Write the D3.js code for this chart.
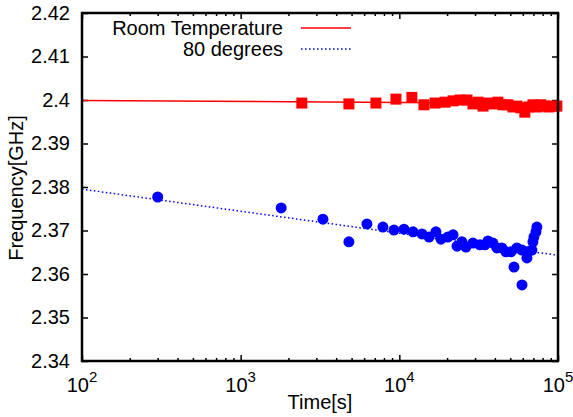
<!DOCTYPE html>
<html>
<head>
<meta charset="utf-8">
<script src="https://cdn.jsdelivr.net/npm/d3@7"></script>
<style>
  body { margin: 0; background: #fff; }
  svg text { font-family: "Liberation Sans", Arial, sans-serif; fill: #000; }
</style>
</head>
<body>
<svg id="chart" width="573" height="417"></svg>
<script>
// Room temperature measurements (time in s, frequency in GHz)
const roomTime = [2430, 4810, 7120, 9520, 12000, 14300, 16800, 19400, 21800, 24100, 26700, 29100,
  31300, 33700, 36200, 38900, 41800, 45000, 48300, 52000, 55100, 58400, 61800, 65600, 69500,
  73600, 78000, 82600, 87600, 92900, 98400]
const roomFreq = [2.3993, 2.3991, 2.3993, 2.4002, 2.4006, 2.3989, 2.3993, 2.3995, 2.3998, 2.4000,
  2.4000, 2.3991, 2.3995, 2.3986, 2.3993, 2.3991, 2.3995, 2.3989, 2.3989, 2.3984, 2.3986, 2.3982,
  2.3972, 2.3984, 2.3989, 2.3984, 2.3989, 2.3986, 2.3984, 2.3986, 2.3986]

// 80 degrees measurements
const hotTime = [300, 1800, 3300, 4810, 6250, 7880, 9250, 10700, 12200, 13900, 15400, 17000, 18300,
  20200, 21800, 23100, 24800, 26300, 29100, 32200, 34600, 36200, 38900, 41200, 44300, 47000,
  50500, 52800, 55100, 59300, 59300, 63700, 64600, 68500, 69500, 70500, 72600, 73600]
const hotFreq = [2.3777, 2.3752, 2.3726, 2.3674, 2.3715, 2.3708, 2.3701, 2.3703, 2.3697, 2.3692,
  2.3685, 2.3697, 2.3680, 2.3685, 2.3690, 2.3664, 2.3674, 2.3662, 2.3671, 2.3667, 2.3667, 2.3676,
  2.3671, 2.3660, 2.3660, 2.3651, 2.3651, 2.3616, 2.3660, 2.3655, 2.3575, 2.3637, 2.3651, 2.3655,
  2.3674, 2.3685, 2.3697, 2.3708]

// fitted lines (end points of the log-linear fits)
const roomFitTime = [100, 100000]
const roomFitFreq = [2.3999, 2.3992]
const hotFitTime = [100, 100000]
const hotFitFreq = [2.3795, 2.3643]

const xTicks = [100, 1000, 10000, 100000]
const xExp = ['2', '3', '4', '5']
const yTicks = [2.34, 2.35, 2.36, 2.37, 2.38, 2.39, 2.4, 2.41, 2.42]
const legendNames = ['Room Temperature', '80 degrees']

const plotLeft = 82, plotRight = 558, plotTop = 13, plotBottom = 361
const fontSize = 20

const svg = d3.select('#chart')
const x = d3.scaleLog().domain([100, 100000]).range([plotLeft, plotRight])
const y = d3.scaleLinear().domain([2.34, 2.42]).range([plotBottom, plotTop])

// minor ticks 2..9 in every decade
const minorTicks = []
for (let e = 2; e < 5; e++) for (let m = 2; m < 10; m++) minorTicks.push(m * Math.pow(10, e))

const styleAxis = g => {
  g.select('.domain').remove()
  g.selectAll('.tick line').attr('stroke', '#000').attr('stroke-width', 1.5)
}

// y axis with labels, ticks pointing inward
svg.append('g')
   .attr('transform', `translate(${plotLeft},0)`)
   .call(d3.axisLeft(y).tickValues(yTicks).tickSize(-6).tickPadding(12)
           .tickFormat(d => String(+d.toFixed(2))))
   .call(styleAxis)
   .call(g => g.selectAll('text').attr('font-size', fontSize).attr('font-family', null).attr('fill', '#000'))

// mirrored right ticks
svg.append('g')
   .attr('transform', `translate(${plotRight},0)`)
   .call(d3.axisRight(y).tickValues(yTicks).tickSize(-6).tickFormat(''))
   .call(styleAxis)

// bottom / top major and minor ticks
const xAxes = [[d3.axisBottom, plotBottom], [d3.axisTop, plotTop]]
xAxes.forEach(([ax, pos]) => {
  svg.append('g')
     .attr('transform', `translate(0,${pos})`)
     .call(ax(x).tickValues(xTicks).tickSize(-6).tickFormat(''))
     .call(styleAxis)
  svg.append('g')
     .attr('transform', `translate(0,${pos})`)
     .call(ax(x).tickValues(minorTicks).tickSize(-3).tickFormat(''))
     .call(styleAxis)
})

// x tick labels 10^n with superscript
const xLab = svg.append('g').selectAll('text').data(xTicks).enter().append('text')
   .attr('x', d => x(d))
   .attr('y', 392)
   .attr('text-anchor', 'middle')
   .attr('font-size', fontSize)
xLab.append('tspan').text('10')
xLab.append('tspan').attr('dy', -10).attr('font-size', 15).text((d, i) => xExp[i])

// axis titles
svg.append('text')
   .attr('x', 320).attr('y', 409)
   .attr('text-anchor', 'middle')
   .attr('font-size', fontSize)
   .text('Time[s]')
svg.append('text')
   .attr('transform', 'translate(23,188) rotate(-90)')
   .attr('text-anchor', 'middle')
   .attr('font-size', fontSize)
   .text('Frequency[GHz]')

const line = d3.line().x(d => x(d[0])).y(d => y(d[1]))

// fitted lines
svg.append('path')
   .datum(roomFitTime.map((t, i) => [t, roomFitFreq[i]]))
   .attr('d', line)
   .attr('fill', 'none').attr('stroke', '#ff0000').attr('stroke-width', 1.5)
svg.append('path')
   .datum(hotFitTime.map((t, i) => [t, hotFitFreq[i]]))
   .attr('d', line)
   .attr('fill', 'none').attr('stroke', '#0000ff').attr('stroke-width', 1.5)
   .attr('stroke-dasharray', '1.5,2.5')

// measured points
const sq = 11
svg.append('g').selectAll('rect')
   .data(roomTime.map((t, i) => [t, roomFreq[i]]))
   .enter().append('rect')
   .attr('x', d => x(d[0]) - sq / 2)
   .attr('y', d => y(d[1]) - sq / 2)
   .attr('width', sq).attr('height', sq)
   .attr('fill', '#ff0000')
svg.append('g').selectAll('circle')
   .data(hotTime.map((t, i) => [t, hotFreq[i]]))
   .enter().append('circle')
   .attr('cx', d => x(d[0]))
   .attr('cy', d => y(d[1]))
   .attr('r', 5.5)
   .attr('fill', '#0000ff')

// legend
const legend = svg.append('g')
legendNames.forEach((name, i) => {
  const ly = 28 + i * 21
  legend.append('text')
        .attr('x', 283).attr('y', ly + 7)
        .attr('text-anchor', 'end')
        .attr('font-size', fontSize)
        .text(name)
  legend.append('line')
        .attr('x1', 301).attr('x2', 351).attr('y1', ly).attr('y2', ly)
        .attr('stroke', i === 0 ? '#ff0000' : '#0000ff')
        .attr('stroke-width', 1.5)
        .attr('stroke-dasharray', i === 0 ? null : '1.5,2.5')
})

// plot frame
svg.append('rect')
   .attr('x', plotLeft).attr('y', plotTop)
   .attr('width', plotRight - plotLeft).attr('height', plotBottom - plotTop)
   .attr('fill', 'none').attr('stroke', '#000').attr('stroke-width', 2.5)
</script>
</body>
</html>
